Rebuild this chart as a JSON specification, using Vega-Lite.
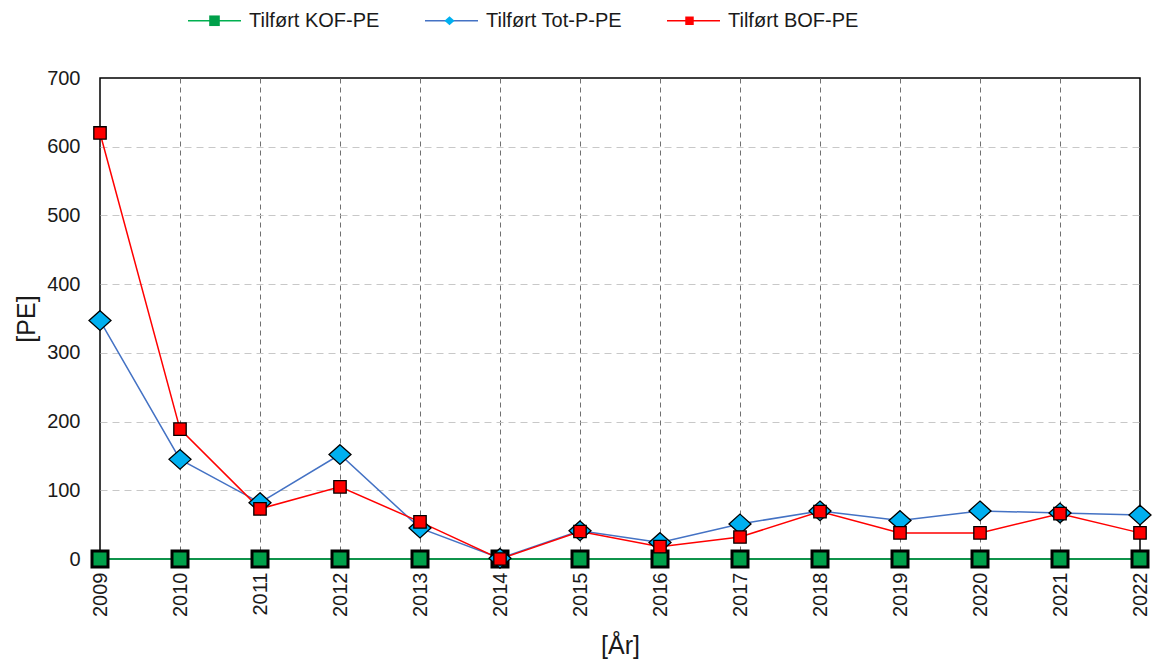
{
  "$schema": "https://vega.github.io/schema/vega-lite/v6.json",
  "width": 1040,
  "height": 481,
  "autosize": {"type": "none"},
  "padding": {"left": 100, "top": 78, "right": 14, "bottom": 103},
  "background": "white",
  "config": {
    "font": "Liberation Sans",
    "view": {"stroke": "black", "strokeWidth": 1.5},
    "axis": {
      "labelFont": "Liberation Sans",
      "labelFontSize": 20,
      "labelColor": "#1a1a1a",
      "titleFont": "Liberation Sans",
      "titleFontSize": 25,
      "titleFontWeight": "normal",
      "titleColor": "#1a1a1a",
      "ticks": false,
      "tickSize": 0,
      "domain": false
    }
  },
  "data": {
    "values": [
      {"year": 2009, "series": "Tilført KOF-PE", "value": 0},
      {"year": 2010, "series": "Tilført KOF-PE", "value": 0},
      {"year": 2011, "series": "Tilført KOF-PE", "value": 0},
      {"year": 2012, "series": "Tilført KOF-PE", "value": 0},
      {"year": 2013, "series": "Tilført KOF-PE", "value": 0},
      {"year": 2014, "series": "Tilført KOF-PE", "value": 0},
      {"year": 2015, "series": "Tilført KOF-PE", "value": 0},
      {"year": 2016, "series": "Tilført KOF-PE", "value": 0},
      {"year": 2017, "series": "Tilført KOF-PE", "value": 0},
      {"year": 2018, "series": "Tilført KOF-PE", "value": 0},
      {"year": 2019, "series": "Tilført KOF-PE", "value": 0},
      {"year": 2020, "series": "Tilført KOF-PE", "value": 0},
      {"year": 2021, "series": "Tilført KOF-PE", "value": 0},
      {"year": 2022, "series": "Tilført KOF-PE", "value": 0},
      {"year": 2009, "series": "Tilført Tot-P-PE", "value": 347},
      {"year": 2010, "series": "Tilført Tot-P-PE", "value": 145},
      {"year": 2011, "series": "Tilført Tot-P-PE", "value": 82},
      {"year": 2012, "series": "Tilført Tot-P-PE", "value": 152},
      {"year": 2013, "series": "Tilført Tot-P-PE", "value": 45},
      {"year": 2014, "series": "Tilført Tot-P-PE", "value": 1},
      {"year": 2015, "series": "Tilført Tot-P-PE", "value": 41},
      {"year": 2016, "series": "Tilført Tot-P-PE", "value": 24},
      {"year": 2017, "series": "Tilført Tot-P-PE", "value": 51},
      {"year": 2018, "series": "Tilført Tot-P-PE", "value": 70},
      {"year": 2019, "series": "Tilført Tot-P-PE", "value": 56},
      {"year": 2020, "series": "Tilført Tot-P-PE", "value": 70},
      {"year": 2021, "series": "Tilført Tot-P-PE", "value": 67},
      {"year": 2022, "series": "Tilført Tot-P-PE", "value": 64},
      {"year": 2009, "series": "Tilført BOF-PE", "value": 620},
      {"year": 2010, "series": "Tilført BOF-PE", "value": 189},
      {"year": 2011, "series": "Tilført BOF-PE", "value": 73},
      {"year": 2012, "series": "Tilført BOF-PE", "value": 105},
      {"year": 2013, "series": "Tilført BOF-PE", "value": 54},
      {"year": 2014, "series": "Tilført BOF-PE", "value": 0},
      {"year": 2015, "series": "Tilført BOF-PE", "value": 40},
      {"year": 2016, "series": "Tilført BOF-PE", "value": 18},
      {"year": 2017, "series": "Tilført BOF-PE", "value": 32},
      {"year": 2018, "series": "Tilført BOF-PE", "value": 69},
      {"year": 2019, "series": "Tilført BOF-PE", "value": 38},
      {"year": 2020, "series": "Tilført BOF-PE", "value": 38},
      {"year": 2021, "series": "Tilført BOF-PE", "value": 66},
      {"year": 2022, "series": "Tilført BOF-PE", "value": 38}
    ]
  },
  "encoding": {
    "x": {
      "field": "year",
      "type": "quantitative",
      "scale": {"domain": [2009, 2022], "nice": false, "zero": false},
      "axis": {
        "values": [2009, 2010, 2011, 2012, 2013, 2014, 2015, 2016, 2017, 2018, 2019, 2020, 2021, 2022],
        "format": "d",
        "labelAngle": -90,
        "labelPadding": 13,
        "labelFlush": false,
        "labelOverlap": false,
        "grid": true,
        "gridColor": "#707070",
        "gridDash": [5, 4],
        "gridWidth": 1,
        "gridOpacity": {"condition": {"test": "datum.value === 2009 || datum.value === 2022", "value": 0}, "value": 1},
        "title": "[År]",
        "titleX": 520,
        "titleY": 86,
        "titleBaseline": "middle"
      }
    },
    "y": {
      "field": "value",
      "type": "quantitative",
      "scale": {"domain": [0, 700], "nice": false},
      "axis": {
        "values": [0, 100, 200, 300, 400, 500, 600, 700],
        "labelPadding": 20,
        "grid": true,
        "gridColor": "#c8c8c8",
        "gridDash": [7, 5],
        "gridWidth": 1,
        "gridOpacity": {"condition": {"test": "datum.value === 0 || datum.value === 700", "value": 0}, "value": 1},
        "title": "[PE]",
        "titleX": -74,
        "titleY": 240.5,
        "titleBaseline": "middle"
      }
    }
  },
  "layer": [
    {
      "mark": {"type": "line", "strokeWidth": 1.5},
      "encoding": {
        "stroke": {
          "field": "series",
          "type": "nominal",
          "sort": ["Tilført KOF-PE", "Tilført Tot-P-PE", "Tilført BOF-PE"],
          "scale": {"range": ["#00b050", "#4472c4", "#ff0000"]},
          "legend": {
            "orient": "none",
            "legendX": 87,
            "legendY": -85,
            "direction": "horizontal",
            "title": null,
            "symbolType": "stroke",
            "symbolSize": 2809,
            "symbolStrokeWidth": 1.5,
            "labelFont": "Liberation Sans",
            "labelFontSize": 20,
            "labelColor": "#1a1a1a",
            "labelOffset": 7,
            "labelLimit": 400,
            "columnPadding": 42,
            "padding": 0,
            "zindex": 1
          }
        }
      }
    },
    {
      "mark": {"type": "point", "filled": true, "stroke": "black", "opacity": 1},
      "encoding": {
        "fill": {
          "field": "series",
          "type": "nominal",
          "scale": {"domain": ["Tilført KOF-PE", "Tilført Tot-P-PE", "Tilført BOF-PE"], "range": ["#00a04a", "#00b0f0", "#ff0000"]},
          "legend": {
            "orient": "none",
            "legendX": 87,
            "legendY": -85,
            "direction": "horizontal",
            "title": null,
            "symbolSize": 2809,
            "symbolStrokeWidth": 1.5,
            "symbolStrokeColor": "black",
            "labelFont": "Liberation Sans",
            "labelFontSize": 20,
            "labelColor": "#1a1a1a",
            "labelOpacity": 0,
            "labelOffset": 7,
            "labelLimit": 400,
            "columnPadding": 42,
            "padding": 0,
            "zindex": 2,
            "encode": {"symbols": {"update": {"stroke": {"value": "black"}, "strokeWidth": {"value": 1.8}}}}
          }
        },
        "shape": {
          "field": "series",
          "type": "nominal",
          "scale": {"domain": ["Tilført KOF-PE", "Tilført Tot-P-PE", "Tilført BOF-PE"], "range": ["M-0.2,-0.2H0.2V0.2H-0.2Z", "M0,-0.17L0.19,0L0,0.17L-0.19,0Z", "M-0.16,-0.16H0.16V0.16H-0.16Z"]},
          "legend": {
            "orient": "none",
            "legendX": 87,
            "legendY": -85,
            "direction": "horizontal",
            "title": null,
            "symbolSize": 2809,
            "symbolStrokeWidth": 1.5,
            "symbolStrokeColor": "black",
            "labelFont": "Liberation Sans",
            "labelFontSize": 20,
            "labelColor": "#1a1a1a",
            "labelOpacity": 0,
            "labelOffset": 7,
            "labelLimit": 400,
            "columnPadding": 42,
            "padding": 0,
            "zindex": 2,
            "encode": {"symbols": {"update": {"stroke": {"value": "black"}, "strokeWidth": {"value": 1.8}}}}
          }
        },
        "size": {
          "condition": [
            {"test": "datum.series === 'Tilført Tot-P-PE'", "value": 13400},
            {"test": "datum.series === 'Tilført BOF-PE'", "value": 6000}
          ],
          "value": 6400
        },
        "strokeWidth": {
          "condition": {"test": "datum.series === 'Tilført KOF-PE'", "value": 3},
          "value": 1.3
        }
      }
    }
  ]
}
